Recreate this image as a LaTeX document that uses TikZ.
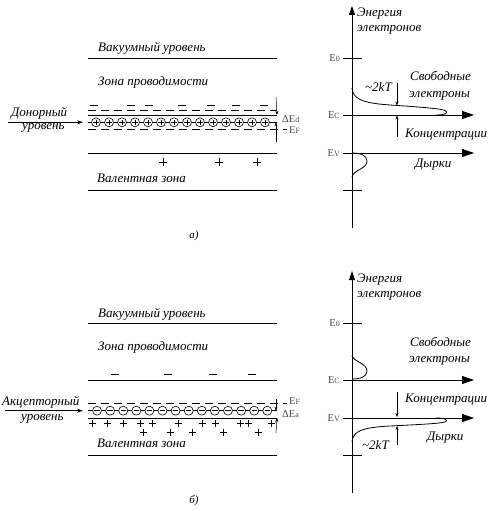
\documentclass[tikz,border=0pt]{standalone}
\usepackage{fontspec}
\setmainfont{Liberation Serif}
\usetikzlibrary{arrows.meta}

\newcommand{\En}[1]{E{\fontsize{8}{9}\selectfont #1}}

\begin{document}
\begin{tikzpicture}[x=1pt, y=-1pt, line join=round,
  level/.style={line width=0.8pt},
  fermi/.style={line width=0.8pt, dash pattern=on 8pt off 5pt},
  charge/.style={line width=0.7pt},
  txt/.style={font=\itshape\fontsize{13}{15}\selectfont, anchor=base west, inner sep=0pt},
  elabel/.style={font=\fontsize{10.5}{12}\selectfont, text=black!70, inner sep=0pt, anchor=west},
  axis/.style={line width=0.8pt, -{Triangle[length=12pt,width=8pt]}},
  vaxis/.style={line width=0.8pt, -{Triangle[length=9pt,width=6pt]}},
  gap/.style={line width=0.5pt, -{Stealth[length=4pt,width=3pt]}},
  pointer/.style={line width=0.6pt, -{Stealth[length=6pt,width=4pt]}},
  dist/.style={line width=0.8pt},
  donor/.style={circle, draw, fill=white, line width=0.6pt, minimum size=9pt, inner sep=0pt,
    path picture={\draw[line width=0.5pt]
      ([xshift=-2.7pt]path picture bounding box.center) -- ([xshift=2.7pt]path picture bounding box.center)
      ([yshift=-2.7pt]path picture bounding box.center) -- ([yshift=2.7pt]path picture bounding box.center);}},
  acceptor/.style={circle, draw, fill=white, line width=0.6pt, minimum size=9pt, inner sep=0pt,
    path picture={\draw[line width=0.5pt]
      ([xshift=-2.7pt]path picture bounding box.center) -- ([xshift=2.7pt]path picture bounding box.center);}}
]
\useasboundingbox (0,0) rectangle (490,511);

% common frame of both panels
\foreach \oy/\p/\cap in {0/a/{а)}, 265/b/{б)}} {
  \coordinate (vacW\p) at (88,58+\oy);
  \coordinate (vacE\p) at (277,58+\oy);
  \coordinate (ecW\p) at (88,115+\oy);
  \coordinate (ecE\p) at (277,115+\oy);
  \coordinate (evW\p) at (88,153+\oy);
  \coordinate (evE\p) at (277,153+\oy);
  \coordinate (vbW\p) at (88,190+\oy);
  \coordinate (vbE\p) at (277,190+\oy);
  \draw[level] (vacW\p) -- (vacE\p) (ecW\p) -- (ecE\p) (evW\p) -- (evE\p) (vbW\p) -- (vbE\p);
  \node[txt] (vacT\p) at (98,52+\oy) {Вакуумный уровень};
  \node[txt] (cbT\p) at (98,85+\oy) {Зона проводимости};
  \node[txt] (vbT\p) at (97,182+\oy) {Валентная зона};

  % energy axis
  \coordinate (axB\p) at (352,228+\oy);
  \coordinate (axT\p) at (352,6+\oy);
  \coordinate (e0W\p) at (343,58+\oy);
  \coordinate (e0E\p) at (362,58+\oy);
  \coordinate (ecA\p) at (343,115+\oy);
  \coordinate (ecTip\p) at (474,115+\oy);
  \coordinate (evA\p) at (343,153+\oy);
  \coordinate (evTip\p) at (474,153+\oy);
  \coordinate (lowW\p) at (343,190+\oy);
  \coordinate (lowE\p) at (362,190+\oy);
  \draw[vaxis] (axB\p) -- (axT\p);
  \draw[level] (e0W\p) -- (e0E\p) (lowW\p) -- (lowE\p);
  \draw[axis] (ecA\p) -- (ecTip\p);
  \draw[axis] (evA\p) -- (evTip\p);
  \node[elabel, anchor=east] (e0L\p) at (340,58+\oy) {\En{0}};
  \node[elabel, anchor=east] (ecL\p) at (340,115+\oy) {\En{C}};
  \node[elabel, anchor=east] (evL\p) at (340,153+\oy) {\En{V}};
  \node[txt] (enT\p) at (357,17+\oy) {Энергия};
  \node[txt] (elT\p) at (357,32+\oy) {электронов};
  \node[txt] (freeT\p) at (410,81+\oy) {Свободные};
  \node[txt] (freeU\p) at (409,97+\oy) {электроны};
  \node[txt] (concT\p) at (405,137.5+\oy) {Концентрации};
  \node[font=\itshape\fontsize{11}{13}\selectfont] (cap\p) at (194,236+\oy) {\cap};
}

% a) donor semiconductor
\coordinate (cdW) at (88,110.7);
\coordinate (cdE) at (277,110.7);
\draw[fermi] (cdW) -- (cdE);
\foreach \x in {94,131,149,182,211,236,264}
  \draw[charge] (\x-4,105) -- (\x+4,105);
\coordinate (edW) at (88,122.3);
\coordinate (edE) at (277,122.3);
\draw[level] (edW) -- (edE);
\foreach \i in {0,...,13}
  \node[donor] (don\i) at (96+13*\i,122.3) {};
\coordinate (efW) at (88,129.5);
\coordinate (efE) at (287,129.5);
\draw[fermi] (efW) -- (efE);
\foreach \x in {163,219,257}
  \draw[charge] (\x-4,162) -- (\x+4,162) (\x,158) -- (\x,166);
\coordinate (gapTa) at (276,97);
\coordinate (gapBa) at (276,142);
\draw[gap] (gapTa) -- (ecEa);
\draw[gap] (gapBa) -- (276,122.3);
\node[elabel] (edL) at (282,119) {Δ\En{d}};
\node[elabel] (efLa) at (289,130.5) {\En{F}};
\node[txt] (donT) at (11,116) {Донорный};
\node[txt] (donU) at (22,129.5) {уровень};
\coordinate (donS) at (8,122.3);
\coordinate (donE) at (83,122.3);
\draw[pointer] (donS) -- (donE);

\draw[dist] (352,88) .. controls (353,99) and (362,103) .. (390,105)
  .. controls (420,107) and (440,108.5) .. (445,110.5)
  .. controls (449,112.5) and (446,115) .. (436,115);
\draw[dist] (352,153) .. controls (360,153) and (367,155) .. (367,161)
  .. controls (367,169) and (353,170) .. (352,177);
\coordinate (ktTa) at (397,83);
\coordinate (ktMa) at (397,105.5);
\coordinate (ktBa) at (397,137);
\coordinate (ktNa) at (397,115.4);
\draw[gap] (ktTa) -- (ktMa);
\draw[gap] (ktBa) -- (ktNa);
\node[txt] (ktLa) at (365,92) {\textasciitilde 2kT};
\node[txt] (holeTa) at (415,167) {Дырки};

% b) acceptor semiconductor
\foreach \x in {115,168,213,252}
  \draw[charge] (\x-4,374) -- (\x+4,374);
\coordinate (fbW) at (88,403.3);
\coordinate (fbE) at (287,403.3);
\draw[fermi] (fbW) -- (fbE);
\coordinate (eaW) at (88,410.7);
\coordinate (eaE) at (277,410.7);
\draw[level] (eaW) -- (eaE);
\foreach \i in {0,...,13}
  \node[acceptor] (acc\i) at (97+13.1*\i,410.7) {};
\foreach \x in {92,107,123,140,152,178,202,215,240,248,271}
  \draw[charge] (\x-3.5,423.5) -- (\x+3.5,423.5) (\x,420) -- (\x,427);
\foreach \x in {143,170,192,223,258}
  \draw[charge] (\x-3.5,432) -- (\x+3.5,432) (\x,428.5) -- (\x,435.5);
\coordinate (gapTb) at (276,399);
\coordinate (gapBb) at (276,433);
\draw[gap] (gapTb) -- (276,410.7);
\draw[gap] (gapBb) -- (evEb);
\node[elabel] (efLb) at (289,401.5) {\En{F}};
\node[elabel] (eaL) at (282,414.5) {Δ\En{a}};
\node[txt] (accT) at (2,405) {Акцепторный};
\node[txt] (accU) at (21,420) {уровень};
\coordinate (accS) at (5,410.7);
\coordinate (accE) at (83,410.7);
\draw[pointer] (accS) -- (accE);

\draw[dist] (352,355) .. controls (353,362) and (367,363) .. (367,371)
  .. controls (367,377) and (360,379) .. (352,379);
\draw[dist] (352,442) .. controls (353,431) and (362,427.5) .. (390,426)
  .. controls (420,424.5) and (440,423.5) .. (445,422)
  .. controls (449,420.5) and (446,418) .. (436,418);
\coordinate (ktTb) at (397,392);
\coordinate (ktMb) at (397,417);
\coordinate (ktBb) at (397,445);
\coordinate (ktNb) at (397,426);
\draw[gap] (ktTb) -- (ktMb);
\draw[gap] (ktBb) -- (ktNb);
\node[txt] (ktLb) at (362,449) {\textasciitilde 2kT};
\node[txt] (holeTb) at (427,440) {Дырки};
\end{tikzpicture}
\end{document}
